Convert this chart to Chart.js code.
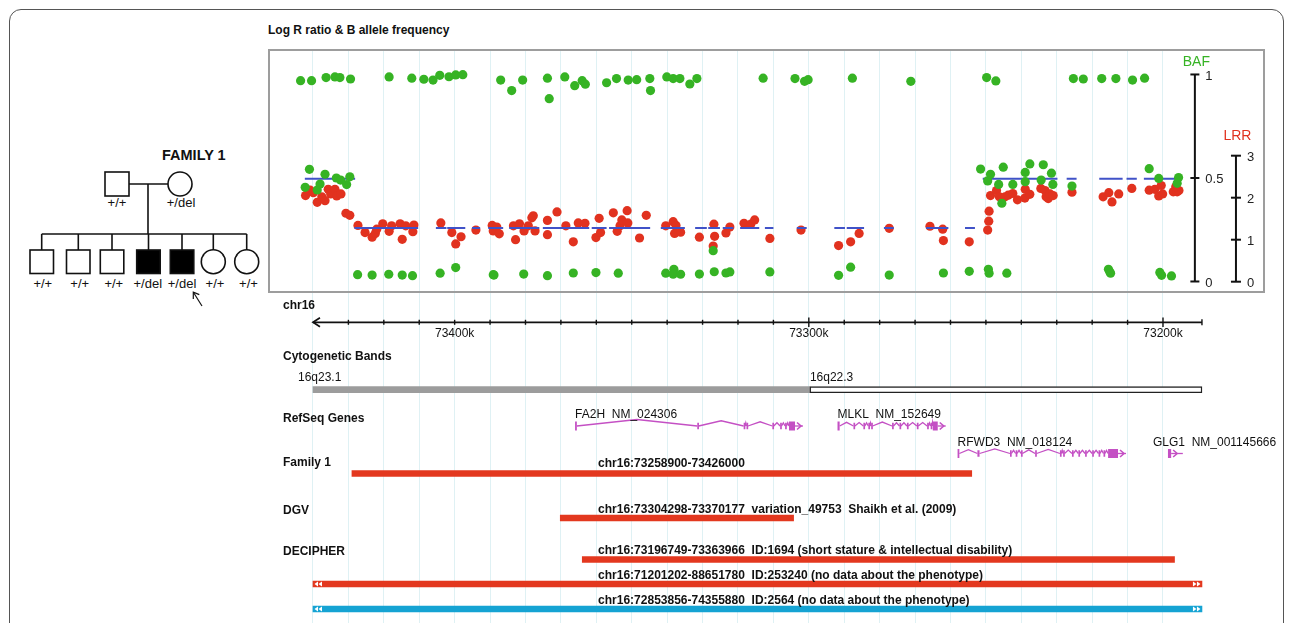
<!DOCTYPE html>
<html>
<head>
<meta charset="utf-8">
<script src="https://cdn.jsdelivr.net/npm/chart.js@4.4.1/dist/chart.umd.min.js"></script>
<style>
  body { margin:0; width:1293px; height:623px; overflow:hidden; background:#fff; position:relative;
         font-family:"Liberation Sans", Arial, sans-serif; color:#111; }
  .frame { position:absolute; left:9px; top:9px; width:1273px; height:700px; border:1.5px solid #555; border-radius:12px; }
  .lbl { position:absolute; font-size:12px; font-weight:bold; line-height:14px; white-space:nowrap; }
  canvas { position:absolute; }
</style>
</head>
<body>
<div class="frame"></div>

<svg width="268" height="623" style="position:absolute;left:0;top:0" font-family="Liberation Sans, Arial, sans-serif">
  <text x="162" y="160" font-size="14.5" font-weight="bold" fill="#111">FAMILY 1</text>
  <g stroke="#111" stroke-width="1.6" fill="none">
    <rect x="105" y="172" width="24" height="24" fill="#fff"/>
    <circle cx="180" cy="184" r="12" fill="#fff"/>
    <line x1="129" y1="184" x2="168" y2="184"/>
    <line x1="148" y1="184" x2="148" y2="234"/>
    <line x1="41.7" y1="234" x2="246.7" y2="234"/>
    <line x1="41.7" y1="234" x2="41.7" y2="250"/>
    <line x1="78.3" y1="234" x2="78.3" y2="250"/>
    <line x1="112" y1="234" x2="112" y2="250"/>
    <line x1="148.5" y1="234" x2="148.5" y2="250"/>
    <line x1="182" y1="234" x2="182" y2="250"/>
    <line x1="213.3" y1="234" x2="213.3" y2="250"/>
    <line x1="246.7" y1="234" x2="246.7" y2="250"/>
    <rect x="30" y="250" width="23.5" height="23.5"/>
    <rect x="66.5" y="250" width="23.5" height="23.5"/>
    <rect x="100.3" y="250" width="23.5" height="23.5"/>
    <rect x="136.7" y="250" width="23.5" height="23.5" fill="#000"/>
    <rect x="170.3" y="250" width="23.5" height="23.5" fill="#000"/>
    <circle cx="213.3" cy="261.7" r="12"/>
    <circle cx="246.7" cy="261.7" r="12"/>
    <line x1="202" y1="306" x2="193.5" y2="292.5" stroke-width="1.2"/>
    <polyline points="193.3,299 193.3,292.2 199.3,294.6" stroke-width="1.2"/>
  </g>
  <g font-size="13" fill="#111" text-anchor="middle">
    <text x="117" y="207">+/+</text>
    <text x="181" y="207">+/del</text>
    <text x="42.8" y="288">+/+</text>
    <text x="79.7" y="288">+/+</text>
    <text x="113.8" y="288">+/+</text>
    <text x="147.8" y="288">+/del</text>
    <text x="182" y="288">+/del</text>
    <text x="215" y="288">+/+</text>
    <text x="248.5" y="288">+/+</text>
  </g>
</svg>

<canvas id="signalChart" width="997" height="244" style="left:268px;top:49px;width:997px;height:244px"></canvas>
<canvas id="trackChart" width="1025" height="330" style="left:268px;top:293px;width:1025px;height:330px"></canvas>

<div class="lbl" style="left:268px;top:23px">Log R ratio &amp; B allele frequency</div>
<div class="lbl" style="left:283px;top:298px">chr16</div>
<div class="lbl" style="left:283px;top:349px">Cytogenetic Bands</div>
<div class="lbl" style="left:283px;top:411px">RefSeq Genes</div>
<div class="lbl" style="left:283px;top:455px">Family 1</div>
<div class="lbl" style="left:283px;top:503px">DGV</div>
<div class="lbl" style="left:283px;top:544px">DECIPHER</div>

<script>
// ---- data (positions in kb on chr16, hg18) ----
const bafPos = [
  73443.5, 73440.4, 73436.3, 73433.8, 73432.4, 73429.4, 73418.5, 73412.1, 73408.7, 73406.1,
  73404.2, 73401.6, 73399.7, 73397.7, 73387.0, 73383.9, 73380.8, 73373.8, 73373.3, 73368.9,
  73366.1, 73364.0, 73363.1, 73357.1, 73354.3, 73351.0, 73348.6, 73344.9, 73344.7, 73340.1,
  73338.3, 73336.4, 73333.6, 73331.6, 73312.9, 73303.9, 73301.2, 73300.2, 73287.7, 73271.2,
  73249.8, 73247.2, 73225.3, 73222.5, 73217.3, 73213.3, 73208.6, 73205.2,
  73427.4, 73423.3, 73418.6, 73414.8, 73411.9, 73404.1, 73399.7, 73389.1, 73388.9, 73380.5,
  73373.8, 73366.5, 73360.1, 73353.8, 73340.4, 73338.1, 73338.3, 73336.2, 73330.9, 73326.7,
  73323.4, 73322.3, 73311.0, 73291.6, 73288.2, 73277.3, 73262.0, 73254.7, 73249.3, 73249.1,
  73244.1, 73215.4, 73215.0, 73214.8, 73200.9, 73200.4, 73197.6,
  73441.0, 73442.2, 73436.6, 73438.0, 73438.8, 73433.4, 73432.2, 73430.5, 73429.6, 73327.0,
  73251.5, 73248.7, 73249.5, 73245.1, 73246.4, 73242.4, 73238.9, 73238.9, 73237.6, 73233.8,
  73234.4, 73231.5, 73231.1, 73225.7, 73245.5, 73203.9, 73201.2, 73195.6, 73196.0
];
const bafVal = [
  0.970, 0.970, 0.985, 0.988, 0.985, 0.978, 0.988, 0.982, 0.977, 0.973,
  0.996, 0.989, 0.998, 0.999, 0.973, 0.922, 0.973, 0.982, 0.883, 0.988,
  0.946, 0.970, 0.953, 0.960, 0.980, 0.973, 0.975, 0.980, 0.922, 0.988,
  0.980, 0.980, 0.954, 0.980, 0.982, 0.980, 0.967, 0.975, 0.982, 0.967,
  0.985, 0.969, 0.980, 0.978, 0.980, 0.980, 0.973, 0.982,
  0.033, 0.031, 0.035, 0.031, 0.028, 0.040, 0.067, 0.033, 0.031, 0.036,
  0.028, 0.041, 0.043, 0.040, 0.040, 0.059, 0.035, 0.035, 0.036, 0.047,
  0.041, 0.046, 0.046, 0.030, 0.069, 0.031, 0.041, 0.049, 0.059, 0.040,
  0.040, 0.059, 0.046, 0.040, 0.044, 0.030, 0.027,
  0.542, 0.455, 0.518, 0.471, 0.442, 0.500, 0.490, 0.468, 0.506, 0.149,
  0.543, 0.518, 0.486, 0.552, 0.469, 0.469, 0.527, 0.482, 0.568, 0.564,
  0.490, 0.523, 0.469, 0.461, 0.378, 0.545, 0.498, 0.502, 0.474
];
const lrrPos = [
  73442.1, 73440.8, 73439.9, 73438.8, 73437.5, 73436.6, 73435.7, 73435.0, 73433.8, 73433.3,
  73432.1, 73430.7, 73429.6, 73427.3, 73425.3, 73423.3, 73422.4, 73422.0, 73420.3, 73418.5,
  73417.8, 73415.4, 73414.8, 73413.8, 73411.8, 73411.5, 73403.9, 73400.8, 73399.7, 73398.2,
  73394.0, 73389.4, 73389.1, 73388.1, 73387.4, 73383.4, 73382.8, 73381.7, 73380.4, 73379.2,
  73378.2, 73377.8, 73377.3, 73373.8, 73373.8, 73371.1, 73368.6, 73366.5, 73365.1, 73363.2,
  73360.1, 73359.2, 73358.8, 73355.2, 73354.1, 73353.3, 73352.8, 73351.3, 73351.1, 73347.8,
  73345.9, 73340.4, 73338.3, 73337.5, 73337.9, 73336.2, 73330.9, 73326.8, 73326.6, 73327.0,
  73323.4, 73322.3, 73318.3, 73316.4, 73315.3, 73311.0, 73302.2, 73291.6, 73288.2, 73285.8,
  73277.3, 73265.8, 73262.2, 73262.0, 73254.7, 73249.5, 73249.2, 73249.1, 73248.7, 73247.0,
  73246.2, 73244.6, 73243.7, 73242.4, 73241.1, 73239.0, 73238.9, 73237.6, 73234.5, 73233.3,
  73233.0, 73232.4, 73231.9, 73231.0, 73225.7, 73216.9, 73215.3, 73214.4, 73212.5, 73208.8,
  73203.9, 73202.3, 73200.5, 73201.2, 73200.1, 73197.1, 73196.0, 73195.5, 73196.4
];
const lrrVal = [
  2.05, 2.18, 2.12, 1.89, 2.02, 1.93, 2.20, 2.09, 2.20, 2.04,
  2.09, 1.63, 1.58, 1.34, 1.17, 1.06, 1.15, 1.25, 1.38, 1.20,
  1.33, 1.38, 1.01, 1.33, 1.19, 1.35, 1.40, 1.17, 0.90, 1.07,
  1.23, 1.34, 1.21, 1.30, 1.14, 1.33, 1.00, 1.38, 1.21, 1.33,
  1.52, 1.57, 1.21, 1.46, 1.12, 1.66, 1.33, 0.95, 1.40, 1.39,
  1.05, 1.51, 1.17, 1.64, 1.20, 1.33, 1.47, 1.69, 1.40, 1.04,
  1.58, 1.33, 1.43, 1.34, 1.15, 1.18, 1.06, 1.37, 1.08, 0.85,
  1.16, 1.30, 1.39, 1.37, 1.47, 1.03, 1.23, 0.86, 0.95, 1.15,
  1.27, 1.32, 1.25, 0.98, 0.95, 1.23, 1.44, 1.68, 2.05, 2.17,
  2.02, 2.02, 2.06, 2.10, 1.95, 1.99, 2.20, 2.08, 2.22, 2.17,
  2.02, 1.98, 2.09, 2.05, 2.13, 2.02, 2.12, 1.90, 2.09, 2.22,
  2.18, 2.20, 2.29, 2.04, 2.09, 2.14, 2.14, 2.17, 2.26
];
// segmentation calls (dashed blue), level on the LRR axis
const segStart = [73442.3, 73428.3, 73405.3, 73402.1, 73395.1, 73390.5, 73384.6, 73375.1, 73361.3, 73356.4,
                  73341.8, 73332.1, 73328.4, 73324.3, 73319.4, 73312.4, 73303.4, 73292.8, 73289.3, 73278.8,
                  73266.9, 73255.9, 73250.9, 73227.2, 73218.0, 73210.3, 73205.4];
const segEnd   = [73428.1, 73410.3, 73402.3, 73397.0, 73392.8, 73386.3, 73376.1, 73362.0, 73357.1, 73344.8,
                  73335.0, 73328.8, 73325.1, 73321.3, 73314.0, 73310.0, 73300.6, 73289.8, 73284.4, 73276.0,
                  73260.6, 73253.1, 73229.8, 73224.4, 73211.4, 73207.4, 73195.9];
const segLevel = [2.45, 1.28, 1.28, 1.28, 1.28, 1.28, 1.28, 1.28, 1.28, 1.28,
                  1.28, 1.28, 1.28, 1.28, 1.28, 1.28, 1.28, 1.28, 1.28, 1.28,
                  1.28, 1.28, 2.45, 2.45, 2.45, 2.45, 2.45];

const bafTicks = [0, 0.5, 1];
const bafTickText = ['0', '0.5', '1'];
const lrrTicks = [0, 1, 2, 3];
const lrrTickText = ['0', '1', '2', '3'];

const axisLabelKb = [73400, 73300, 73200];
const axisLabelText = ['73400k', '73300k', '73200k'];
const axisMajorKb = [73300, 73200];

const bandName = ['16q23.1', '16q22.3'];
const bandHi = [73440.0, 73299.7];
const bandLo = [73299.7, 73189.0];
const bandStain = ['gpos', 'gneg'];

const geneName = ['FA2H', 'MLKL', 'RFWD3', 'GLG1'];
const geneAcc = ['NM_024306', 'NM_152649', 'NM_018124', 'NM_001145666'];
const geneRow = [0, 0, 1, 1];
const geneExons = [
  [[73366.0,73365.5],[73331.5,73331.1],[73318.4,73318.0],[73317.6,73317.2],[73310.3,73309.9],
   [73308.1,73307.7],[73306.7,73306.3],[73305.6,73303.9]],
  [[73291.9,73291.3],[73287.4,73287.0],[73284.6,73284.2],[73283.2,73282.8],[73282.4,73282.0],
   [73276.5,73276.1],[73274.4,73274.0],[73272.3,73271.9],[73269.5,73269.1],[73266.6,73266.2],
   [73265.6,73265.2],[73265.0,73263.6]],
  [[73258.0,73257.5],[73252.4,73251.8],[73243.2,73242.8],[73241.6,73241.2],[73240.1,73239.7],
   [73236.1,73235.7],[73229.1,73228.7],[73228.2,73227.8],[73225.7,73225.3],[73223.9,73223.5],
   [73222.0,73221.6],[73220.0,73219.6],[73218.2,73217.8],[73216.8,73216.4],[73215.5,73212.7]],
  [[73198.6,73197.7]]
];
const geneTail = [null, null, null, 73194.4];

const cnvTrack = ['family', 'dgv', 'decipher1', 'decipher2', 'decipher3'];
const cnvHi = [73429.0, 73370.177, 73363.966, 88651.780, 74355.880];
const cnvLo = [73254.0, 73304.298, 73196.749, 71201.202, 72853.856];
const cnvType = ['del', 'del', 'del', 'del', 'dup'];
const cnvText = [
  'chr16:73258900-73426000',
  'chr16:73304298-73370177  variation_49753  Shaikh et al. (2009)',
  'chr16:73196749-73363966  ID:1694 (short stature & intellectual disability)',
  'chr16:71201202-88651780  ID:253240 (no data about the phenotype)',
  'chr16:72853856-74355880  ID:2564 (no data about the phenotype)'
];

// ---- view / style ----
const X_MIN = 73171.2, X_MAX = 73452.7;      // visible window of both panels
const VIEW_HI = 73440, VIEW_LO = 73189;       // ruler extent
const BAF_AXIS_KB = 73191.0, LRR_AXIS_KB = 73179.4;
const CNV_LABEL_KB = 73359.5;
const GREEN = '#36b324', RED = '#e1321f', SEG = '#4052c8', GENE = '#c450c4';
const GRID = '#dff1f4';
const FONT = '"Liberation Sans", Arial, sans-serif';
const TYPE_COLOR = { del: '#e3381f', dup: '#15a3d3' };
// track rows in the lower panel (pixels from its top)
const LANE = { axis: 29.3, axisText: 43.7, band: 96.7, geneRow: [133, 160.5],
  family: 180.5, dgv: 225, decipher1: 266.5, decipher2: 291, decipher3: 316 };
const LANE_TEXT = { family: 174, dgv: 219.5, decipher1: 260.5, decipher2: 285.5, decipher3: 310.5 };

const gridKb = [];
for (let k = 73200; k <= 73440; k += 10) gridKb.push(k);

function xScaleOpts() {
  return {
    type: 'linear', min: X_MIN, max: X_MAX, reverse: true, offset: false,
    grid: { color: GRID, lineWidth: 1, drawTicks: false },
    border: { display: false },
    ticks: { display: false },
    afterBuildTicks: (s) => { s.ticks = gridKb.map(v => ({ value: v })); }
  };
}

// ---- top panel: LRR / BAF ----
function drawSideAxis(ctx, x, ys, ticks, texts, title, color, half, titleGap) {
  const yb = ys.getPixelForValue(ticks[0]);
  const yt = ys.getPixelForValue(ticks[ticks.length - 1]);
  ctx.strokeStyle = '#111'; ctx.lineWidth = 2;
  ctx.beginPath(); ctx.moveTo(x, yb); ctx.lineTo(x, yt); ctx.stroke();
  ctx.font = '13px ' + FONT; ctx.fillStyle = '#222';
  ctx.textAlign = 'left'; ctx.textBaseline = 'middle';
  ticks.forEach((t, i) => {
    const y = ys.getPixelForValue(t);
    ctx.beginPath(); ctx.moveTo(x - half, y); ctx.lineTo(x + half, y); ctx.stroke();
    ctx.fillText(texts[i], x + half + 6, y + 1.5);
  });
  ctx.font = '14px ' + FONT; ctx.fillStyle = color;
  ctx.textAlign = 'center'; ctx.textBaseline = 'alphabetic';
  ctx.fillText(title, x + 1.5, yt - titleGap);
}

const panelPlugin = {
  id: 'panel',
  afterDraw(chart) {
    const { ctx, chartArea: a, scales } = chart;
    ctx.save();
    ctx.strokeStyle = '#9d9d9d'; ctx.lineWidth = 2;
    ctx.strokeRect(a.left + 1, a.top + 1, a.width - 2, a.height - 2);
    drawSideAxis(ctx, scales.x.getPixelForValue(BAF_AXIS_KB), scales.baf, bafTicks, bafTickText, 'BAF', GREEN, 4.5, 8);
    drawSideAxis(ctx, scales.x.getPixelForValue(LRR_AXIS_KB), scales.lrr, lrrTicks, lrrTickText, 'LRR', RED, 5, 15.5);
    ctx.restore();
  }
};

const segData = [];
segStart.forEach((s, i) => {
  segData.push({ x: s, y: segLevel[i] }, { x: segEnd[i], y: segLevel[i] }, { x: segEnd[i], y: null });
});

new Chart(document.getElementById('signalChart'), {
  type: 'scatter',
  data: {
    datasets: [
      { label: 'BAF', data: bafPos.map((p, i) => ({ x: p, y: bafVal[i] })), yAxisID: 'baf',
        backgroundColor: GREEN, borderWidth: 0, pointRadius: 4.6, order: 0 },
      { label: 'segments', data: segData, yAxisID: 'lrr', showLine: true, spanGaps: false,
        borderColor: SEG, borderWidth: 2, pointRadius: 0, order: 1 },
      { label: 'LRR', data: lrrPos.map((p, i) => ({ x: p, y: lrrVal[i] })), yAxisID: 'lrr',
        backgroundColor: RED, borderWidth: 0, pointRadius: 4.6, order: 2 }
    ]
  },
  options: {
    responsive: false, animation: false, events: [],
    layout: { padding: 0, autoPadding: false },
    plugins: { legend: { display: false }, tooltip: { enabled: false } },
    scales: {
      x: xScaleOpts(),
      baf: { type: 'linear', position: 'right', display: false, min: -0.0556, max: 1.123 },
      lrr: { type: 'linear', position: 'right', display: false, min: -0.269, max: 5.54 }
    }
  },
  plugins: [panelPlugin]
});

// ---- lower panel: ruler, bands, genes, CNV tracks ----
const clipHi = v => Math.min(v, VIEW_HI);
const clipLo = v => Math.max(v, VIEW_LO);

function drawGene(ctx, xs, yl, exons, tailKb) {
  const px = exons.map(([h, l]) => [xs.getPixelForValue(h), xs.getPixelForValue(l)]);
  ctx.strokeStyle = GENE; ctx.fillStyle = GENE; ctx.lineWidth = 1.3;
  for (let i = 0; i < px.length - 1; i++) {
    const a = px[i][1], b = px[i + 1][0], m = (a + b) / 2;
    const h = Math.min(6.5, 3 + (b - a) / 20);
    ctx.beginPath(); ctx.moveTo(a, yl); ctx.lineTo(m, yl - h); ctx.lineTo(b, yl); ctx.stroke();
  }
  px.forEach(([l, r], i) => {
    const w = Math.max(1.7, r - l);
    const h = (i === 0 || w > 3) ? 9 : 6.5;
    ctx.fillRect(l, yl - h / 2, w, h);
  });
  const last = px[px.length - 1][1];
  const tail = tailKb != null ? xs.getPixelForValue(tailKb) : last + 8;
  ctx.beginPath(); ctx.moveTo(last, yl); ctx.lineTo(tail, yl); ctx.stroke();
  ctx.lineWidth = 1.6;
  ctx.beginPath(); ctx.moveTo(last + 2, yl - 3.5); ctx.lineTo(last + 6, yl); ctx.lineTo(last + 2, yl + 3.5); ctx.stroke();
}

function drawClipMarks(ctx, x, y, dir) {
  ctx.fillStyle = '#fff';
  for (let k = 0; k < 2; k++) {
    const tip = x + dir * (1.5 + 4 * k);
    ctx.beginPath();
    ctx.moveTo(tip, y); ctx.lineTo(tip + dir * 3.5, y - 2.4); ctx.lineTo(tip + dir * 3.5, y + 2.4);
    ctx.closePath(); ctx.fill();
  }
}

const tracksPlugin = {
  id: 'tracks',
  afterDatasetsDraw(chart) {
    const { ctx, scales: { x, y } } = chart;
    ctx.save();
    // ruler
    const ay = y.getPixelForValue(LANE.axis);
    const xl = x.getPixelForValue(VIEW_HI), xr = x.getPixelForValue(VIEW_LO);
    ctx.strokeStyle = '#111'; ctx.lineWidth = 1.7;
    ctx.beginPath(); ctx.moveTo(xl, ay); ctx.lineTo(xr, ay); ctx.stroke();
    ctx.beginPath(); ctx.moveTo(xl + 7, ay - 4.5); ctx.lineTo(xl, ay); ctx.lineTo(xl + 7, ay + 4.5); ctx.stroke();
    ctx.lineWidth = 1.4;
    gridKb.filter(k => k < VIEW_HI).forEach(k => {
      const px = x.getPixelForValue(k);
      const h = axisMajorKb.includes(k) ? 4.7 : 2.5;
      ctx.beginPath(); ctx.moveTo(px, ay - h); ctx.lineTo(px, ay + h); ctx.stroke();
    });
    ctx.beginPath(); ctx.moveTo(xr, ay - 3); ctx.lineTo(xr, ay + 3); ctx.stroke();
    ctx.font = '12px ' + FONT; ctx.fillStyle = '#111'; ctx.textAlign = 'center'; ctx.textBaseline = 'alphabetic';
    axisLabelKb.forEach((k, i) => ctx.fillText(axisLabelText[i], x.getPixelForValue(k), y.getPixelForValue(LANE.axisText)));

    // band names
    ctx.textAlign = 'left';
    bandName.forEach((n, i) => {
      const clipped = bandHi[i] >= VIEW_HI;
      const px = x.getPixelForValue(clipHi(bandHi[i])) - (clipped ? 15 : 0);
      ctx.fillText(n, px, y.getPixelForValue(LANE.band) - 9);
    });

    // genes
    geneName.forEach((n, i) => {
      const yl = y.getPixelForValue(LANE.geneRow[geneRow[i]]);
      drawGene(ctx, x, yl, geneExons[i], geneTail[i]);
      const left = x.getPixelForValue(geneExons[i][0][0]) - (geneTail[i] != null ? 15 : 0);
      ctx.fillStyle = '#111'; ctx.font = '12px ' + FONT;
      ctx.fillText(n + '  ' + geneAcc[i], left, yl - 8);
    });

    // CNV labels and clip marks
    ctx.font = 'bold 12px ' + FONT;
    cnvText.forEach((t, i) => {
      ctx.fillStyle = '#111';
      ctx.fillText(t, x.getPixelForValue(CNV_LABEL_KB), y.getPixelForValue(LANE_TEXT[cnvTrack[i]]));
      const yc = y.getPixelForValue(LANE[cnvTrack[i]]);
      if (cnvHi[i] > VIEW_HI) drawClipMarks(ctx, x.getPixelForValue(VIEW_HI), yc, 1);
      if (cnvLo[i] < VIEW_LO) drawClipMarks(ctx, x.getPixelForValue(VIEW_LO), yc, -1);
    });
    ctx.restore();
  }
};

new Chart(document.getElementById('trackChart'), {
  type: 'bar',
  data: {
    datasets: [
      { label: 'bands', grouped: false, barThickness: 6, borderSkipped: false,
        data: bandName.map((n, i) => ({ x: [clipHi(bandHi[i]), clipLo(bandLo[i])], y: LANE.band })),
        backgroundColor: bandStain.map(s => s === 'gpos' ? '#9c9c9c' : '#ffffff'),
        borderColor: '#222', borderWidth: bandStain.map(s => s === 'gpos' ? 0 : 1.4) },
      { label: 'cnv', grouped: false, barThickness: 6, borderWidth: 0,
        data: cnvTrack.map((t, i) => ({ x: [clipHi(cnvHi[i]), clipLo(cnvLo[i])], y: LANE[t] })),
        backgroundColor: cnvType.map(t => TYPE_COLOR[t]) }
    ]
  },
  options: {
    indexAxis: 'y', responsive: false, animation: false, events: [],
    layout: { padding: { left: 0, top: 0, bottom: 0, right: 28 }, autoPadding: false },
    plugins: { legend: { display: false }, tooltip: { enabled: false } },
    scales: {
      x: xScaleOpts(),
      y: { type: 'linear', min: 0, max: 330, reverse: true, offset: false, display: false, grid: { offset: false } }
    }
  },
  plugins: [tracksPlugin]
});
</script>
</body>
</html>
